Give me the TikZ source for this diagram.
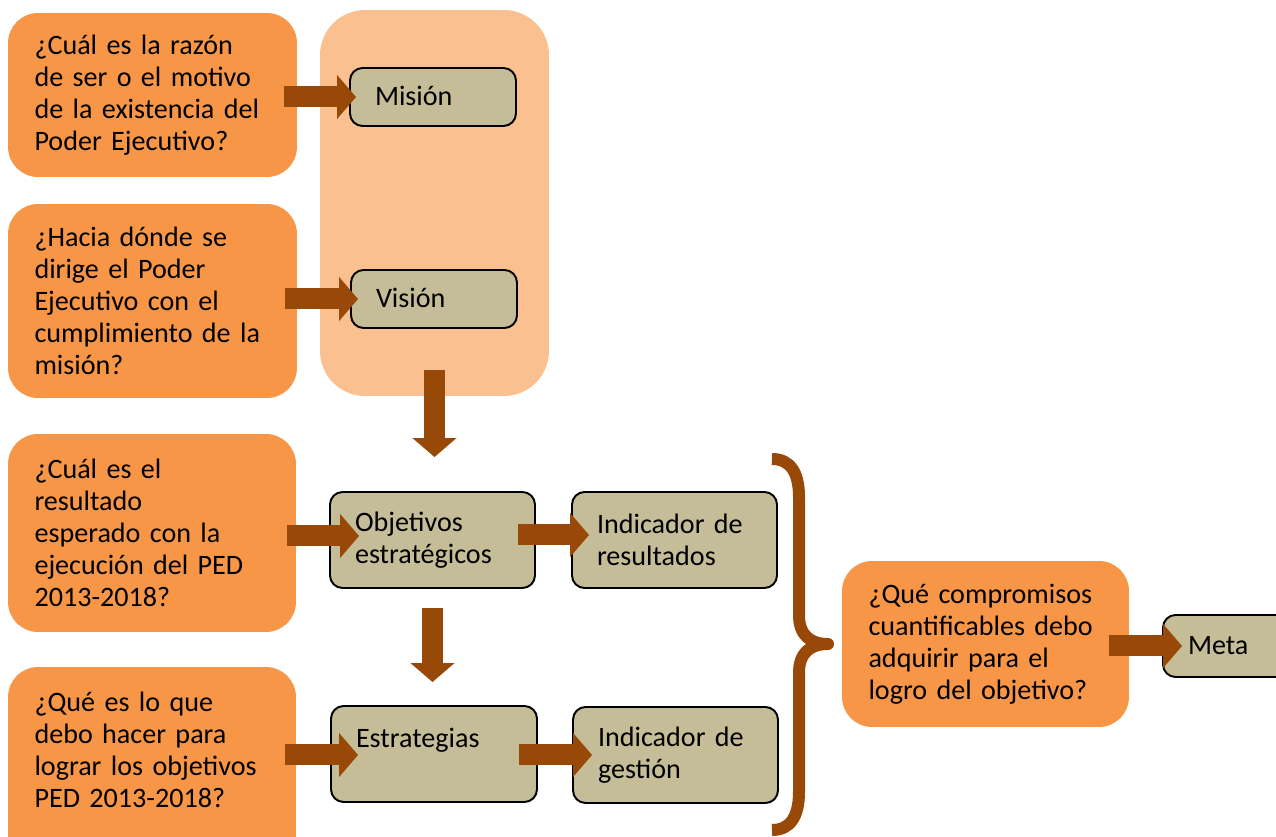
\documentclass[tikz,border=0pt]{standalone}
\usepackage{fontspec}
\setmainfont{Carlito}
\usetikzlibrary{arrows.meta}
\definecolor{naranja}{HTML}{F79646}
\definecolor{naranjaclaro}{HTML}{FAC090}
\definecolor{caqui}{HTML}{C4BD97}
\definecolor{cafe}{HTML}{984807}
\begin{document}
\begin{tikzpicture}[x=0.02cm,y=-0.02cm,line join=round,font=\fontsize{16}{18.2}\selectfont,
	pregunta/.style={fill=naranja,rounded corners=0.6cm,align=left,inner xsep=0.53cm,inner ysep=0pt},
	caja/.style={draw=black,line width=1.1pt,fill=caqui,rounded corners=0.25cm,align=left,inner xsep=0.5cm,inner ysep=0pt},
	flecha/.style={draw=cafe,line width=0.42cm,-{Triangle[length=0.38cm,width=0.86cm]}}]
	\clip (0,0) rectangle (1276,837);
	% panel de mision y vision
	\node[fill=naranjaclaro,rounded corners=0.9cm,minimum width=4.58cm,minimum height=7.72cm] (panel) at (434.5,203) {};
	% preguntas
	\node[pregunta,text width=4.72cm,minimum height=3.28cm] (q1) at (152.5,95) {¿Cuál es la razón\\de ser o el motivo\\de la existencia del\\Poder Ejecutivo?};
	\node[pregunta,text width=4.72cm,minimum height=3.88cm] (q2) at (152.5,301) {¿Hacia dónde se\\dirige el Poder\\Ejecutivo con el\\cumplimiento de la\\misión?};
	\node[pregunta,text width=4.70cm,minimum height=3.96cm] (q3) at (152,533) {¿Cuál es el\\resultado\\esperado con la\\ejecución del PED\\2013-2018?};
	\node[pregunta,text width=4.70cm,minimum height=3.96cm] (q4) at (152,766) {¿Qué es lo que\\debo hacer para\\lograr los objetivos\\PED 2013-2018?\\\mbox{}};
	\node[pregunta,text width=4.68cm,minimum height=3.32cm] (q5) at (985.5,644) {¿Qué compromisos\\cuantificables debo\\adquirir para el\\logro del objetivo?};
	% cajas
	\node[caja,text width=2.32cm,text height=1em,minimum height=1.16cm] (mision) at (433,97) {Misión};
	\node[caja,text width=2.32cm,text height=1em,minimum height=1.16cm] (vision) at (434,299) {Visión};
	\node[caja,text width=3.1cm,minimum height=1.92cm] (objetivos) at (432.5,540) {Objetivos\\estratégicos};
	\node[caja,text width=3.1cm,minimum height=1.92cm] (indres) at (674.5,540) {Indicador de\\resultados};
	\node[caja,text width=3.12cm,minimum height=1.92cm] (estrategias) at (434,754) {Estrategias\\\mbox{}};
	\node[caja,text width=3.1cm,minimum height=1.92cm] (indges) at (675.5,755) {Indicador de\\gestión};
	\node[caja,text width=2.32cm,text height=1em,minimum height=1.24cm] (meta) at (1246,646) {Meta};
	% flechas
	\draw[flecha,shorten <=-0.26cm,shorten >=-0.14cm] (q1.east |- mision.west) -- (mision.west);
	\draw[flecha,shorten <=-0.24cm,shorten >=-0.16cm] (q2.east |- vision.west) -- (vision.west);
	\draw[flecha,shorten <=-0.52cm,shorten >=0.68cm] (panel.south) -- (panel.south |- objetivos.north);
	\draw[flecha,shorten <=-0.18cm,shorten >=-0.6cm] ([yshift=0.08cm]q3.east |- objetivos.west) -- ([yshift=0.08cm]objetivos.west);
	\draw[flecha,shorten <=-0.36cm,shorten >=-0.36cm] ([yshift=0.1cm]objetivos.east) -- ([yshift=0.1cm]indres.west);
	\draw[flecha,shorten <=0.38cm,shorten >=0.46cm] (objetivos.south) -- (objetivos.south |- estrategias.north);
	\draw[flecha,shorten <=-0.22cm,shorten >=-0.56cm] (q4.east |- indges.west) -- (estrategias.west |- indges.west);
	\draw[flecha,shorten <=-0.38cm,shorten >=-0.4cm] (estrategias.east |- indges.west) -- (indges.west);
	\draw[flecha,shorten <=-0.4cm,shorten >=-0.4cm] (q5.east |- meta.west) -- (meta.west);
	% llave
	\draw[cafe,line width=0.24cm,line cap=butt] (772,459) .. controls (790,459) and (799,472) .. (799,497) -- (799,615)
		.. controls (799,635) and (810,644) .. (828,644) .. controls (810,644) and (799,653) .. (799,673) -- (799,792)
		.. controls (799,817) and (790,830) .. (772,830);
\end{tikzpicture}
\end{document}
